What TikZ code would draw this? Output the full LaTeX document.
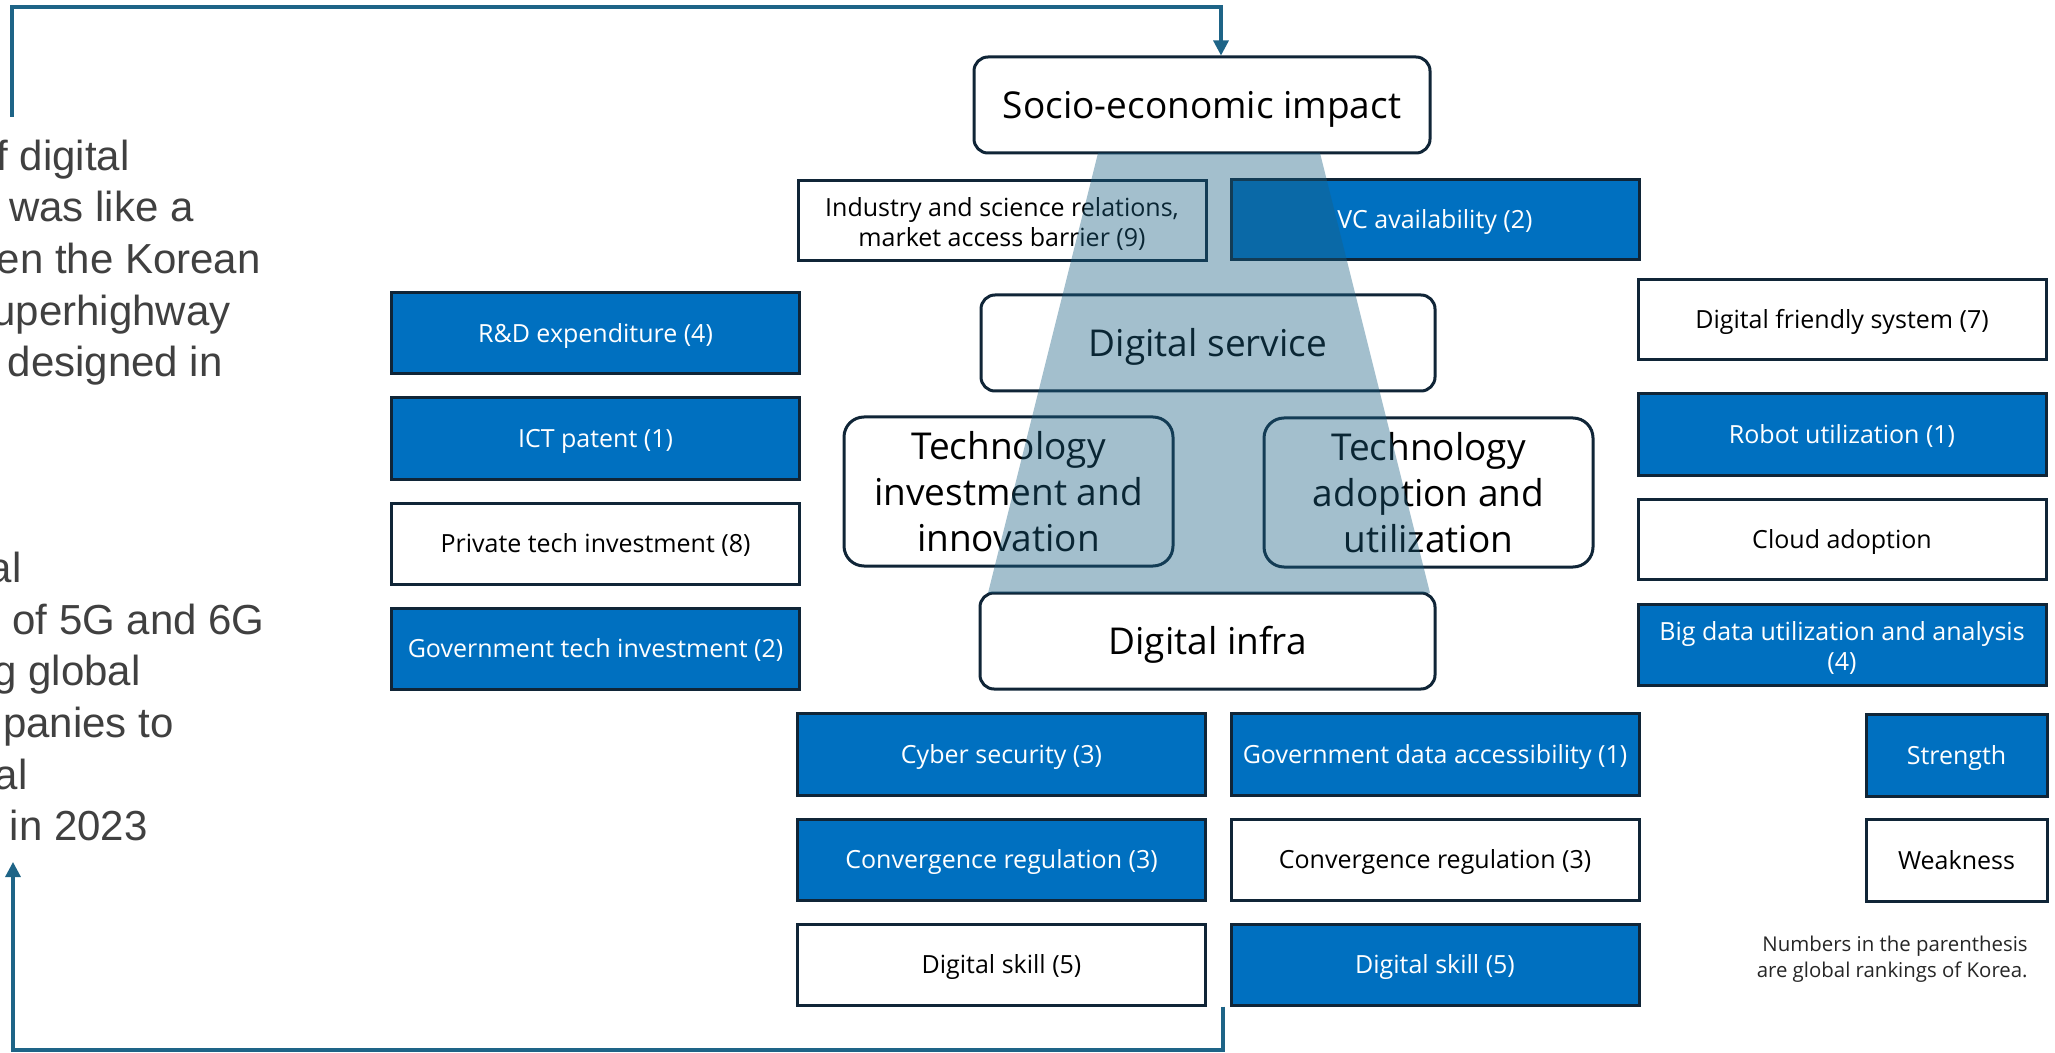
\documentclass[tikz,border=0pt]{standalone}
\usepackage{fontspec}
\setmainfont{Open Sans}
\newfontfamily\arialf{Liberation Sans}
\usetikzlibrary{arrows.meta}
\definecolor{bordc}{RGB}{16,37,55}
\definecolor{blueF}{RGB}{0,112,192}
\definecolor{trapc}{RGB}{25,95,130}
\definecolor{arrc}{RGB}{30,100,135}
\definecolor{leftc}{RGB}{64,64,64}
\tikzset{
  sbox/.style={draw=bordc, line width=1.5pt, inner sep=0pt, minimum width=204pt, minimum height=40.5pt,
    align=center, font=\fontsize{12.5}{15}\selectfont, text height=10pt, text depth=1pt},
  bbox/.style={sbox, fill=blueF, text=white},
  wbox/.style={sbox, fill=white, text=black},
  multi/.style={text height={}, text depth={}},
  rbox/.style={draw=bordc, line width=1.5pt, inner sep=0pt, rounded corners=7pt, fill=white, text=black,
    align=center, font=\fontsize{18.5}{23}\selectfont},
  rone/.style={text height=15.5pt, text depth=2pt},
  lt/.style={anchor=base east, inner sep=0pt, font=\arialf\fontsize{21}{25}\selectfont, text=leftc},
  conn/.style={draw=arrc, line width=1.6pt, -{Triangle[length=7.5pt,width=7.5pt]}},
}
\begin{document}
\begin{tikzpicture}[x=0.5pt,y=-0.5pt]
\useasboundingbox (0,0) rectangle (2055,1053);

% left text (cut off by the picture edge)
\begin{scope}
\clip (0,0) rectangle (2055,1053);
\node[lt] (l1) at (130,171) {f digital};
\node[lt] (l2) at (194,222) {was like a};
\node[lt] (l3) at (261,274) {en the Korean};
\node[lt] (l4) at (231,326) {uperhighway};
\node[lt] (l5) at (223,377) {designed in};
\node[lt] (l6) at (22,582) {al};
\node[lt] (l7) at (265,634) {of 5G and 6G};
\node[lt] (l8) at (141,685) {g global};
\node[lt] (l9) at (174,737) {panies to};
\node[lt] (l10) at (28,789) {al};
\node[lt] (l11) at (148,840) {in 2023};
\end{scope}

% central pillars
\node[rbox, rone, minimum width=228pt, minimum height=48pt] (socio) at (1202,105) {Socio-economic impact};
\node[rbox, rone, minimum width=227pt, minimum height=48pt] (dserv) at (1208,343) {Digital service};
\node[rbox, minimum width=164.5pt, minimum height=74.5pt, rounded corners=10pt] (tinv) at (1008.5,491.5) {Technology\\investment and\\innovation};
\node[rbox, minimum width=164.5pt, minimum height=74.5pt, rounded corners=10pt] (tadp) at (1428.5,492.5) {Technology\\adoption and\\utilization};
\node[rbox, rone, minimum width=227.5pt, minimum height=48pt] (dinfra) at (1207.5,641) {Digital infra};

% top row
\node[wbox, multi, minimum height=40pt] (ind) at (1002,221) {\rule{0pt}{12pt}Industry and science relations,\\market access barrier (9)};
\node[bbox, minimum height=40pt] (vc) at (1435,220) {VC availability (2)};

% left column
\node[bbox] (rd) at (595.5,333.5) {R\&D expenditure (4)};
\node[bbox] (ict) at (595.5,438.5) {ICT patent (1)};
\node[wbox] (priv) at (595.5,543.5) {Private tech investment (8)};
\node[bbox] (govt) at (595.5,648.5) {Government tech investment (2)};

% right column
\node[wbox, minimum height=40pt] (dfs) at (1842,320) {Digital friendly system (7)};
\node[bbox] (robot) at (1842,434.5) {Robot utilization (1)};
\node[wbox, minimum height=40pt] (cloud) at (1842,539) {Cloud adoption};
\node[bbox, multi] (bigd) at (1842,644.5) {\rule{0pt}{12.5pt}Big data utilization and analysis\\(4)};

% bottom rows
\node[bbox, minimum height=41pt] (cyber) at (1001.5,754) {Cyber security (3)};
\node[bbox] (convL) at (1001.5,859.5) {Convergence regulation (3)};
\node[wbox] (skillL) at (1001.5,964.5) {Digital skill (5)};
\node[bbox, minimum height=41pt] (gdata) at (1435,754) {Government data accessibility (1)};
\node[wbox] (convR) at (1435,859.5) {Convergence regulation (3)};
\node[bbox] (skillR) at (1435,964.5) {Digital skill (5)};

% legend
\node[bbox, minimum width=90.5pt, minimum height=41pt] (str) at (1956.5,755) {Strength};
\node[wbox, minimum width=90.5pt, minimum height=41pt] (weak) at (1956.5,860) {Weakness};
\node[anchor=east, inner sep=0pt, align=right, text=black!85, font=\fontsize{10.2}{13}\selectfont] (note) at (2028,959) {Numbers in the parenthesis\\are global rankings of Korea.};

% translucent trapezoid
\fill[trapc, fill opacity=0.4] (1098,153) -- (1320,153) -- (1430,593) -- (988,593) -- cycle;

% connectors
\coordinate (tA) at (12,117);
\coordinate (sIn) at ([xshift=9.5pt]socio.north);
\draw[conn] (tA) -- (12,7) -| (sIn);
\coordinate (sOut) at ([xshift=8pt]skillL.south east);
\coordinate (bA) at (13,862);
\draw[conn] (sOut) -- (sOut |- 0,1050) -| (bA);
\end{tikzpicture}
\end{document}
